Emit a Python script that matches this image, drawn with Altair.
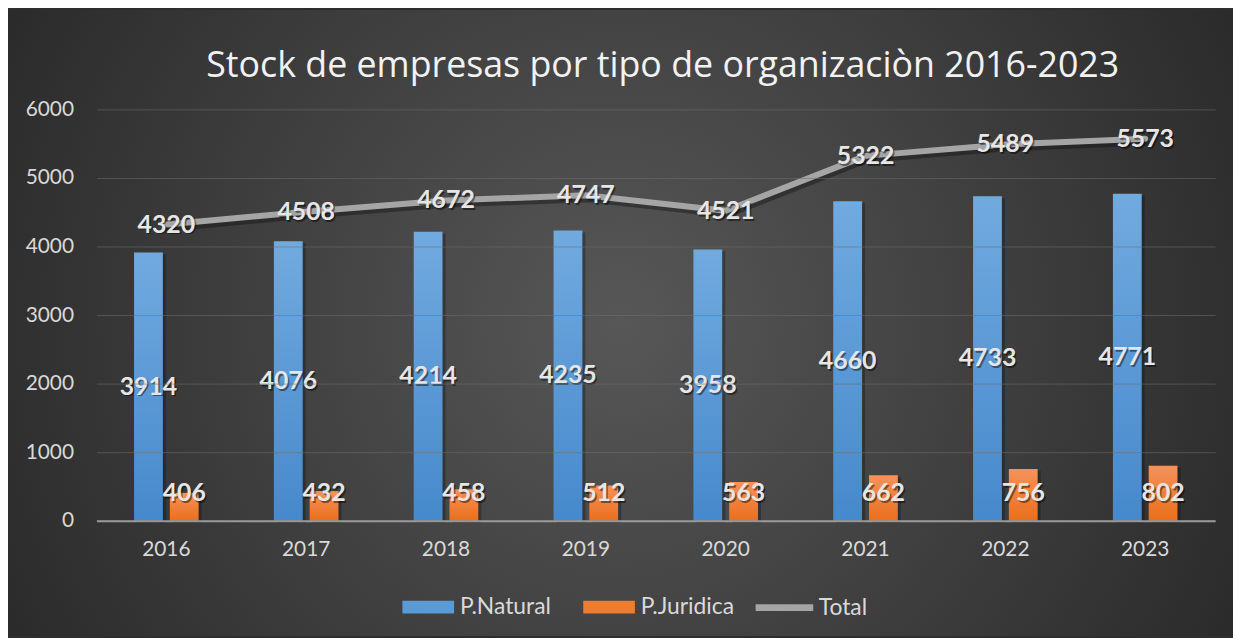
import altair as alt
import pandas as pd

years = ["2016", "2017", "2018", "2019", "2020", "2021", "2022", "2023"]
natural = [3914, 4076, 4214, 4235, 3958, 4660, 4733, 4771]
juridica = [406, 432, 458, 512, 563, 662, 756, 802]
total = [4320, 4508, 4672, 4747, 4521, 5322, 5489, 5573]
series_names = ["P.Natural", "P.Juridica", "Total"]
y_ticks = [0, 1000, 2000, 3000, 4000, 5000, 6000]
title_text = "Stock de empresas por tipo de organizaciòn 2016-2023"

df = pd.DataFrame({"year": years, "natural": natural, "juridica": juridica, "total": total})

W, H = 1126, 414
PL, PT, PR, PB = 89, 100, 18, 116
FONT = "Lato"
LBL = "#e7e6e6"
AX = "#d9d9d9"

blue_grad = alt.LinearGradient(gradient="linear", x1=0, y1=0, x2=0, y2=1,
                               stops=[alt.GradientStop(offset=0, color="#71aadf"),
                                      alt.GradientStop(offset=1, color="#4689cc")])
orange_grad = alt.LinearGradient(gradient="linear", x1=0, y1=0, x2=0, y2=1,
                                 stops=[alt.GradientStop(offset=0, color="#f6925a"),
                                        alt.GradientStop(offset=1, color="#e96f1c")])
bg_grad = alt.RadialGradient(gradient="radial", x1=0.5, y1=0.5, r1=0, x2=0.5, y2=0.5, r2=0.62,
                             stops=[alt.GradientStop(offset=0, color="#575757"),
                                    alt.GradientStop(offset=1, color="#262626")])

xenc = alt.X("year:N", sort=years,
             scale=alt.Scale(paddingInner=0, paddingOuter=0),
             axis=alt.Axis(title=None, labelAngle=0, ticks=False, grid=False,
                           domainColor="#9a9a9a", domainWidth=2, zindex=1,
                           labelFont=FONT, labelFontSize=21, labelColor=AX,
                           labelPadding=18))
yscale = alt.Scale(domain=[0, 6000], nice=False, zero=True)
yaxis = alt.Axis(title=None, values=y_ticks, format="d", ticks=False, domain=False, zindex=1,
                 gridColor="#6e6e6e", gridOpacity=0.55, gridWidth=1,
                 labelFont=FONT, labelFontSize=21, labelColor=AX, labelPadding=23)

base = alt.Chart(df)

background = alt.Chart(alt.Data(values=[{"k": 1}])).mark_rect(fill=bg_grad).encode(
    x=alt.value(-PL), x2=alt.value(W + PR), y=alt.value(-PT), y2=alt.value(H + PB)
)

bar_shadow_n = base.mark_bar(width=29, xOffset=-15, yOffset=2, color="#111111", opacity=0.35).encode(
    x=xenc, y=alt.Y("natural:Q", scale=yscale, axis=yaxis))
bar_shadow_j = base.mark_bar(width=29, xOffset=21, yOffset=2, color="#111111", opacity=0.35).encode(
    x=xenc, y=alt.Y("juridica:Q", scale=yscale))

bars_n = base.mark_bar(width=29, xOffset=-18, fill=blue_grad).encode(
    x=xenc, y=alt.Y("natural:Q", scale=yscale, axis=yaxis))
bars_j = base.mark_bar(width=29, xOffset=18, fill=orange_grad).encode(
    x=xenc, y=alt.Y("juridica:Q", scale=yscale))

legend_fill = base.transform_filter("false").transform_calculate(s="'P.Natural'").mark_bar().encode(
    x=xenc, y=alt.Y("natural:Q", scale=yscale),
    fill=alt.Fill("s:N", scale=alt.Scale(domain=series_names[:2], range=["#5b9bd5", "#ed7d31"]),
                  legend=alt.Legend(title=None, orient="none", legendX=308, legendY=475,
                                    direction="horizontal", zindex=1,
                                    symbolType="M-1,-0.25H1V0.25H-1Z", symbolSize=2704,
                                    symbolStrokeWidth=0,
                                    labelFont=FONT, labelFontSize=23, labelColor=AX,
                                    labelOffset=6, columnPadding=32)))

line_shadow = base.mark_line(strokeWidth=6, color="#141414", opacity=0.45, xOffset=2, yOffset=4,
                             strokeCap="round", strokeJoin="round").encode(
    x=xenc, y=alt.Y("total:Q", scale=yscale))
line = base.mark_line(strokeWidth=6, strokeCap="round", strokeJoin="round").encode(
    x=xenc, y=alt.Y("total:Q", scale=yscale),
    stroke=alt.Stroke("s:N", scale=alt.Scale(domain=series_names[2:], range=["#a5a5a5"]),
                      legend=alt.Legend(title=None, orient="none", legendX=660, legendY=469,
                                        symbolType="stroke", symbolSize=3364, symbolStrokeWidth=7,
                                        zindex=1,
                                        labelFont=FONT, labelFontSize=23, labelColor=AX,
                                        labelOffset=2))
).transform_calculate(s="'Total'")

def labels(field, dx, ycalc):
    shadow = base.transform_calculate(ly=ycalc).mark_text(
        font=FONT, fontSize=25, fontWeight="bold", color="#000000", opacity=0.45,
        dx=dx + 1.5, dy=2).encode(x=xenc, y=alt.Y("ly:Q", scale=yscale), text=f"{field}:Q")
    txt = base.transform_calculate(ly=ycalc).mark_text(
        font=FONT, fontSize=25, fontWeight="bold", color=LBL, dx=dx).encode(
        x=xenc, y=alt.Y("ly:Q", scale=yscale), text=f"{field}:Q")
    return shadow + txt

lab_n = labels("natural", -18, "datum.natural / 2")
lab_j = labels("juridica", 18, "max(datum.juridica / 2, 400)")
lab_t = labels("total", 0, "datum.total")

chart = alt.layer(
    background, bar_shadow_n, bar_shadow_j, bars_n, bars_j, legend_fill,
    line_shadow, line, lab_n, lab_j, lab_t
).properties(
    width=W, height=H,
    padding={"left": PL, "top": PT, "right": PR, "bottom": PB},
    autosize=alt.AutoSizeParams(type="none"),
    background="#2e2e2e",
    title=alt.TitleParams(title_text, font="Open Sans", fontSize=36, fontWeight="normal",
                          color="#f2f2f2", anchor="middle", frame="group", offset=-75, dx=7,
                          zindex=1),
).configure_view(stroke=None)

chart.save("out.html", embed_options={"renderer": "svg", "actions": False})
